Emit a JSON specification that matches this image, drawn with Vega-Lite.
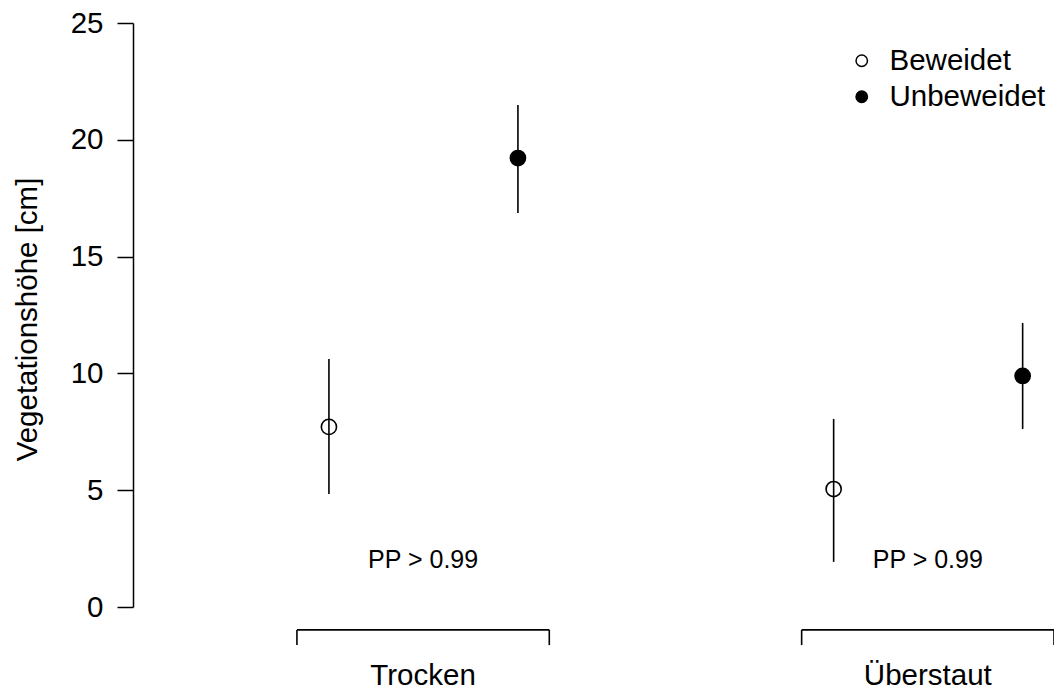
{
  "$schema": "https://vega.github.io/schema/vega-lite/v6.json",
  "width": 921,
  "height": 584,
  "autosize": {"type": "none"},
  "padding": {"left": 133, "top": 23, "right": 0, "bottom": 82},
  "background": "white",
  "config": {
    "font": "Liberation Sans",
    "view": {"stroke": null},
    "axisX": {
      "domain": false,
      "ticks": false,
      "grid": false,
      "labelFontSize": 29.5,
      "labelColor": "black",
      "labelPadding": 54,
      "labelAngle": 0
    },
    "axisY": {
      "domain": true,
      "domainColor": "black",
      "domainWidth": 1.5,
      "ticks": true,
      "tickColor": "black",
      "tickWidth": 1.5,
      "tickSize": 16,
      "labelFontSize": 29.5,
      "labelColor": "black",
      "labelPadding": 14,
      "grid": false,
      "titleFontSize": 29.5,
      "titleFontWeight": "normal",
      "titleColor": "black",
      "titleAngle": -90,
      "titleX": -97,
      "titleY": 296,
      "titleAlign": "center",
      "titleBaseline": "alphabetic"
    }
  },
  "datasets": {
    "schaetzung": [
      {"Standort": "Trocken", "Beweidung": "Beweidet", "mittel": 7.71, "unten": 4.84, "oben": 10.62},
      {"Standort": "Trocken", "Beweidung": "Unbeweidet", "mittel": 19.22, "unten": 16.87, "oben": 21.49},
      {"Standort": "Überstaut", "Beweidung": "Beweidet", "mittel": 5.05, "unten": 1.93, "oben": 8.05},
      {"Standort": "Überstaut", "Beweidung": "Unbeweidet", "mittel": 9.89, "unten": 7.62, "oben": 12.16}
    ],
    "standorte": [
      {"Standort": "Trocken", "pp": "PP > 0.99"},
      {"Standort": "Überstaut", "pp": "PP > 0.99"}
    ]
  },
  "layer": [
    {
      "data": {"name": "schaetzung"},
      "mark": {"type": "rule", "color": "black", "strokeWidth": 1.6},
      "encoding": {
        "x": {
          "field": "Standort",
          "type": "nominal",
          "title": null,
          "scale": {"domain": ["Trocken", "Überstaut"], "paddingInner": 0.5, "paddingOuter": 0.1624, "align": 1}
        },
        "xOffset": {
          "field": "Beweidung",
          "type": "nominal",
          "scale": {"type": "point", "domain": ["Beweidet", "Unbeweidet"], "range": [32, 221], "padding": 0}
        },
        "y": {
          "field": "unten",
          "type": "quantitative",
          "title": "Vegetationshöhe [cm]",
          "scale": {"domain": [0, 25], "nice": false, "zero": false},
          "axis": {"values": [0, 5, 10, 15, 20, 25]}
        },
        "y2": {"field": "oben"}
      }
    },
    {
      "data": {"name": "schaetzung"},
      "mark": {"type": "circle", "size": 230, "stroke": "black", "strokeWidth": 1.6, "opacity": 1},
      "encoding": {
        "x": {"field": "Standort", "type": "nominal", "title": null},
        "xOffset": {"field": "Beweidung", "type": "nominal"},
        "y": {"field": "mittel", "type": "quantitative", "title": "Vegetationshöhe [cm]", "axis": {"values": [0, 5, 10, 15, 20, 25]}},
        "fill": {
          "field": "Beweidung",
          "type": "nominal",
          "scale": {"domain": ["Beweidet", "Unbeweidet"], "range": ["transparent", "black"]},
          "legend": {
            "title": null,
            "orient": "none",
            "legendX": 714,
            "legendY": 23,
            "padding": 0,
            "labelFontSize": 29.5,
            "labelColor": "black",
            "labelOffset": 13,
            "rowPadding": 5,
            "symbolType": "circle",
            "symbolSize": 130,
            "symbolStrokeColor": "black",
            "symbolStrokeWidth": 1.5,
            "symbolOpacity": 1
          }
        }
      }
    },
    {
      "data": {"name": "standorte"},
      "mark": {"type": "text", "fontSize": 25, "color": "black", "baseline": "middle", "align": "center"},
      "encoding": {
        "x": {"field": "Standort", "type": "nominal", "title": null},
        "y": {"datum": 2.0, "type": "quantitative"},
        "text": {"field": "pp"}
      }
    },
    {
      "data": {"name": "standorte"},
      "mark": {"type": "rule", "color": "black", "strokeWidth": 1.6},
      "encoding": {
        "x": {"field": "Standort", "type": "nominal", "title": null, "bandPosition": 0},
        "x2": {"field": "Standort", "bandPosition": 1},
        "y": {"datum": -0.98, "type": "quantitative"}
      }
    },
    {
      "data": {"name": "standorte"},
      "mark": {"type": "rule", "color": "black", "strokeWidth": 1.6},
      "encoding": {
        "x": {"field": "Standort", "type": "nominal", "title": null, "bandPosition": 0},
        "y": {"datum": -0.98, "type": "quantitative"},
        "y2": {"datum": -1.63}
      }
    },
    {
      "data": {"name": "standorte"},
      "mark": {"type": "rule", "color": "black", "strokeWidth": 1.6},
      "encoding": {
        "x": {"field": "Standort", "type": "nominal", "title": null, "bandPosition": 1},
        "y": {"datum": -0.98, "type": "quantitative"},
        "y2": {"datum": -1.63}
      }
    }
  ]
}
